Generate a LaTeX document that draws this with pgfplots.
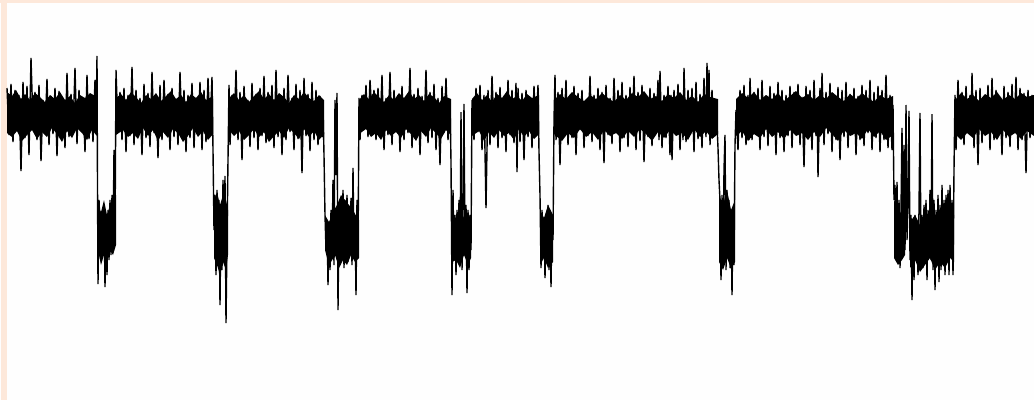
\documentclass[border=0pt]{standalone}
\usepackage{pgfplots}
\pgfplotsset{compat=1.18}
\definecolor{peach}{RGB}{253,232,218}
\definecolor{bgw}{RGB}{254,254,254}
\begin{document}
\begin{tikzpicture}
\begin{axis}[
  width=1034pt, height=400pt, scale only axis,
  xmin=0, xmax=1034, ymin=0, ymax=400, y dir=reverse,
  axis lines=none, ticks=none, clip=true,
]
\fill[bgw] (axis cs:0,0) rectangle (axis cs:1034,400);
\fill[peach] (axis cs:1,0) rectangle (axis cs:7,400);
\fill[peach] (axis cs:0,0) rectangle (axis cs:1034,2.5);
% dense core of the noise band (open state)
\addplot[fill=black, draw=none] coordinates {(7,92)(12,96)(16,90)(21,99)(25,94)(30,100)(35,93)(40,97)(45,102)(50,95)(55,99)(60,92)(65,100)(70,96)(75,103)(80,95)(85,98)(90,93)(97,97)(97,136)(92,130)(87,140)(82,133)(77,128)(72,138)(67,131)(62,142)(57,134)(52,128)(47,137)(42,132)(37,139)(32,130)(27,135)(22,141)(17,131)(12,137)(7,133)} -- cycle;
\addplot[fill=black, draw=none] coordinates {(116,98)(121,94)(126,100)(131,92)(136,97)(141,103)(146,95)(151,99)(156,93)(161,101)(166,96)(171,91)(176,99)(181,95)(186,102)(191,94)(196,98)(201,92)(206,100)(213,96)(213,134)(208,140)(203,131)(198,137)(193,128)(188,136)(183,142)(178,133)(173,129)(168,138)(163,132)(158,141)(153,130)(148,136)(143,128)(138,139)(133,133)(128,137)(123,130)(116,135)} -- cycle;
\addplot[fill=black, draw=none] coordinates {(229,98)(234,93)(239,100)(244,95)(249,102)(254,96)(259,91)(264,99)(269,94)(274,100)(279,93)(284,97)(289,103)(294,95)(299,99)(304,92)(309,98)(314,101)(319,95)(324,100)(324,134)(319,140)(314,131)(309,137)(304,129)(299,139)(294,133)(289,128)(284,138)(279,131)(274,136)(269,142)(264,132)(259,137)(254,129)(249,135)(244,140)(239,131)(234,136)(229,130)} -- cycle;
\addplot[fill=black, draw=none] coordinates {(359,100)(364,94)(369,99)(374,92)(379,97)(384,102)(389,95)(394,100)(399,93)(404,98)(409,91)(414,99)(419,95)(424,101)(429,94)(434,97)(439,103)(444,96)(451,99)(451,135)(446,130)(441,139)(436,133)(431,128)(426,137)(421,131)(416,141)(411,134)(406,129)(401,138)(396,132)(391,136)(386,130)(381,140)(376,133)(371,137)(366,129)(359,134)} -- cycle;
\addplot[fill=black, draw=none] coordinates {(472,99)(477,93)(482,100)(487,95)(492,102)(497,94)(502,98)(507,91)(512,99)(517,96)(522,101)(527,94)(532,98)(539,95)(539,134)(534,139)(529,131)(524,137)(519,129)(514,140)(509,133)(504,136)(499,130)(494,138)(489,132)(484,141)(479,131)(472,136)} -- cycle;
\addplot[fill=black, draw=none] coordinates {(554,100)(560,94)(566,99)(572,92)(578,97)(584,101)(590,95)(596,99)(602,93)(608,98)(614,102)(620,95)(626,100)(632,93)(638,97)(644,91)(650,99)(656,96)(662,101)(668,94)(674,98)(680,92)(686,100)(692,96)(698,102)(704,94)(710,97)(718,99)(718,134)(712,139)(706,131)(700,137)(694,129)(688,140)(682,133)(676,136)(670,130)(664,138)(658,132)(652,141)(646,134)(640,129)(634,137)(628,131)(622,139)(616,133)(610,136)(604,130)(598,140)(592,132)(586,137)(580,129)(574,138)(568,133)(562,141)(554,134)} -- cycle;
\addplot[fill=black, draw=none] coordinates {(736,99)(742,93)(748,98)(754,92)(760,100)(766,95)(772,99)(778,93)(784,101)(790,96)(796,91)(802,98)(808,94)(814,100)(820,95)(826,99)(832,92)(838,97)(844,101)(850,94)(856,99)(862,93)(868,98)(874,102)(880,95)(886,99)(893,96)(893,135)(886,140)(880,131)(874,137)(868,129)(862,139)(856,133)(850,136)(844,130)(838,141)(832,134)(826,128)(820,137)(814,132)(808,140)(802,133)(796,136)(790,130)(784,139)(778,132)(772,137)(766,129)(760,138)(754,134)(748,141)(742,131)(736,136)} -- cycle;
\addplot[fill=black, draw=none] coordinates {(955,100)(961,93)(967,99)(973,95)(979,101)(985,94)(991,98)(997,92)(1003,100)(1009,95)(1015,99)(1021,93)(1027,97)(1034,95)(1034,136)(1027,131)(1021,139)(1015,133)(1009,137)(1003,130)(997,140)(991,132)(985,136)(979,129)(973,138)(967,133)(961,140)(955,134)} -- cycle;
% dense core of the noise band (closed state)
\addplot[fill=black, draw=none] coordinates {(98,205)(101,212)(104,200)(107,215)(110,205)(113,210)(116,195)(116,245)(113,255)(110,250)(107,262)(104,255)(101,265)(98,250)} -- cycle;
\addplot[fill=black, draw=none] coordinates {(214,200)(217,192)(220,205)(223,195)(226,200)(228,210)(228,255)(226,270)(223,262)(220,275)(217,265)(214,258)} -- cycle;
\addplot[fill=black, draw=none] coordinates {(325,215)(329,222)(333,212)(337,205)(341,195)(345,200)(349,205)(353,210)(357,218)(359,220)(359,258)(355,262)(351,255)(347,265)(343,260)(339,268)(335,255)(331,262)(327,258)(325,250)} -- cycle;
\addplot[fill=black, draw=none] coordinates {(452,215)(456,222)(460,210)(464,218)(468,212)(471,220)(471,258)(468,265)(464,255)(460,268)(456,260)(452,262)} -- cycle;
\addplot[fill=black, draw=none] coordinates {(540,210)(544,218)(548,205)(553,215)(553,262)(548,268)(544,258)(540,265)} -- cycle;
\addplot[fill=black, draw=none] coordinates {(719,195)(723,205)(727,190)(731,210)(735,200)(735,262)(731,268)(727,258)(723,270)(719,262)} -- cycle;
\addplot[fill=black, draw=none] coordinates {(894,200)(898,208)(902,215)(905,220)(905,255)(902,260)(898,265)(894,258)} -- cycle;
\addplot[fill=black, draw=none] coordinates {(910,222)(915,215)(920,225)(925,210)(930,218)(935,225)(940,212)(945,220)(950,210)(954,215)(954,262)(950,258)(945,268)(940,262)(935,270)(930,258)(925,265)(920,272)(915,260)(910,268)} -- cycle;
% the trace
\addplot[black, line width=1.4pt, mark=none] coordinates {
(7,88)(9,135)(11,84)(13,142)(15,90)(17,128)(19,95)(21,171)(23,82)(25,138)(27,86)(29,155)(31,58)(33,124)(35,92)(37,140)(39,85)(41,161)(43,100)(45,132)(47,79)(49,145)(51,96)(53,134)(55,88)(57,156)(59,91)(61,129)(63,98)(65,148)(67,73)(69,137)(71,94)(73,133)(75,68)(77,144)(79,90)(81,131)(83,100)(85,152)(87,75)(89,139)(91,95)(93,142)(95,80)(96,134)(97,56)
(97.5,185)(98,284)(99,200)(101,250)(102,215)(103,255)(104,205)(105,287)(106,215)(107,275)(108,210)(109,260)(110,200)(111,255)(112,195)(113,250)(114,150)(115,240)(116,70)
(118,130)(120,92)(122,140)(124,88)(126,152)(128,95)(130,136)(132,67)(134,145)(136,90)(138,128)(140,98)(142,155)(144,84)(146,138)(148,93)(150,147)(152,72)(154,133)(156,96)(158,158)(160,85)(162,140)(164,80)(166,129)(168,94)(170,150)(172,88)(174,137)(176,102)(178,145)(180,72)(182,131)(184,90)(186,152)(188,95)(190,138)(192,83)(194,148)(196,99)(198,135)(200,82)(202,150)(204,90)(206,142)(208,78)(210,130)(212,77)(213,150)
(214,230)(215,195)(216,275)(217,190)(218,250)(219,200)(220,305)(221,210)(222,270)(223,180)(224,260)(225,176)(226,323)(227,240)(228,160)(229,85)
(230,145)(232,95)(234,133)(236,70)(238,140)(240,92)(242,160)(244,86)(246,132)(248,100)(250,147)(252,83)(254,138)(256,94)(258,150)(260,88)(262,136)(264,76)(266,143)(268,92)(270,130)(272,85)(274,148)(276,70)(278,137)(280,95)(282,155)(284,88)(286,140)(288,75)(290,132)(292,98)(294,150)(296,84)(298,139)(300,90)(302,173)(304,78)(306,136)(308,94)(310,151)(312,82)(314,140)(316,90)(318,145)(320,96)(322,137)(323,105)(324,155)
(325,215)(326,250)(327,220)(328,285)(329,225)(330,270)(331,210)(332,255)(333,180)(334,265)(335,100)(336,175)(337,93)(338,310)(339,215)(340,265)(341,205)(342,255)(343,190)(344,268)(345,200)(346,250)(347,195)(348,262)(349,210)(350,255)(351,198)(352,265)(353,168)(354,250)(355,215)(356,295)(357,200)(358,258)(359,98)
(360,140)(362,95)(364,128)(366,85)(368,137)(370,80)(372,115)(374,90)(376,140)(378,88)(380,132)(382,75)(384,150)(386,98)(388,135)(390,72)(392,145)(394,90)(396,130)(398,95)(400,152)(402,86)(404,140)(406,100)(408,133)(410,68)(412,148)(414,94)(416,136)(418,88)(420,155)(422,96)(424,131)(426,70)(428,143)(430,92)(432,138)(434,84)(436,150)(438,98)(440,165)(442,86)(444,133)(446,78)(448,140)(450,100)(451,162)
(452,295)(453,190)(454,260)(455,215)(456,275)(457,210)(458,255)(459,200)(460,265)(461,112)(462,270)(463,215)(464,104)(465,250)(466,205)(467,293)(468,210)(469,270)(470,215)(471,250)(472,100)
(474,140)(476,88)(478,132)(480,85)(482,150)(484,95)(486,208)(488,90)(490,145)(492,76)(494,130)(496,92)(498,148)(500,87)(502,138)(504,96)(506,152)(508,80)(510,135)(512,90)(514,143)(516,83)(517,172)(518,88)(520,142)(522,93)(524,160)(526,90)(528,137)(530,97)(532,148)(534,86)(536,132)(538,85)(539,152)
(540,195)(541,268)(542,210)(543,255)(544,220)(545,278)(546,225)(547,262)(548,205)(549,270)(550,210)(551,287)(552,215)(553,240)(554,120)(555,75)
(556,140)(558,92)(560,165)(562,88)(564,132)(566,80)(568,145)(570,95)(572,138)(574,86)(576,155)(578,93)(580,130)(582,90)(584,148)(586,100)(588,136)(590,76)(592,142)(594,95)(596,131)(598,88)(600,150)(602,92)(604,163)(606,85)(608,135)(610,98)(612,144)(614,78)(616,133)(618,90)(620,152)(622,82)(624,138)(626,95)(628,147)(630,87)(632,134)(634,76)(636,150)(638,92)(640,141)(642,85)(644,162)(646,97)(648,137)(650,88)(652,146)(654,93)(656,132)(658,80)(659,140)(660,71)(662,148)(664,95)(666,138)(668,86)(670,155)(671,95)(672,160)(674,90)(676,135)(678,84)(680,150)(682,96)(683,140)(684,68)(686,142)(688,90)(690,133)(692,88)(694,152)(696,82)(698,139)(700,94)(702,148)(704,78)(706,137)(707,63)(708,130)(709,70)(710,145)(712,90)(714,135)(716,100)(718,148)
(719,180)(720,200)(721,280)(722,195)(723,265)(724,170)(725,135)(726,270)(727,190)(728,255)(729,200)(730,268)(731,210)(732,295)(733,215)(734,265)(735,145)(736,110)
(738,150)(740,90)(742,138)(744,85)(746,145)(748,95)(749,140)(750,78)(752,140)(754,92)(756,132)(758,88)(760,150)(762,80)(764,137)(766,96)(768,146)(770,86)(772,134)(774,93)(776,155)(778,82)(780,138)(782,90)(784,152)(786,95)(788,136)(790,86)(792,148)(794,92)(796,133)(798,84)(800,145)(802,97)(804,167)(806,86)(808,138)(810,90)(812,150)(814,80)(816,136)(817,100)(818,177)(820,88)(821,135)(822,73)(824,145)(826,92)(828,134)(830,83)(832,152)(834,95)(836,140)(838,87)(840,160)(842,90)(844,137)(846,82)(848,148)(850,94)(852,135)(854,88)(856,155)(858,96)(860,140)(862,85)(864,146)(866,90)(868,133)(870,80)(872,150)(874,92)(876,138)(878,86)(880,152)(882,90)(884,140)(886,75)(888,148)(890,95)(892,150)(893,105)
(894,200)(895,185)(896,260)(897,182)(898,255)(899,200)(900,268)(901,210)(902,128)(903,255)(904,145)(905,250)(906,105)(907,240)(908,200)(909,111)(910,260)(911,215)(912,300)(913,220)(914,280)(915,215)(916,260)(917,225)(918,275)(919,210)(920,113)(921,260)(922,215)(923,268)(924,205)(925,255)(926,200)(927,280)(928,210)(929,258)(930,190)(931,260)(932,114)(933,270)(934,200)(935,290)(936,210)(937,265)(938,195)(939,282)(940,205)(941,270)(942,185)(943,255)(944,200)(945,275)(946,195)(947,260)(948,190)(949,275)(950,185)(951,250)(952,200)(953,275)(954,170)(955,95)
(956,150)(958,80)(960,138)(962,92)(964,145)(966,86)(968,132)(970,95)(971,130)(972,73)(974,148)(976,90)(978,165)(980,88)(982,143)(984,96)(986,134)(988,85)(990,150)(992,78)(994,140)(996,90)(998,135)(1000,98)(1002,155)(1004,86)(1006,138)(1008,92)(1010,147)(1012,84)(1014,133)(1016,77)(1018,150)(1020,88)(1022,140)(1024,93)(1026,173)(1028,90)(1030,138)(1032,95)(1034,132)
};
\end{axis}
\end{tikzpicture}
\end{document}
